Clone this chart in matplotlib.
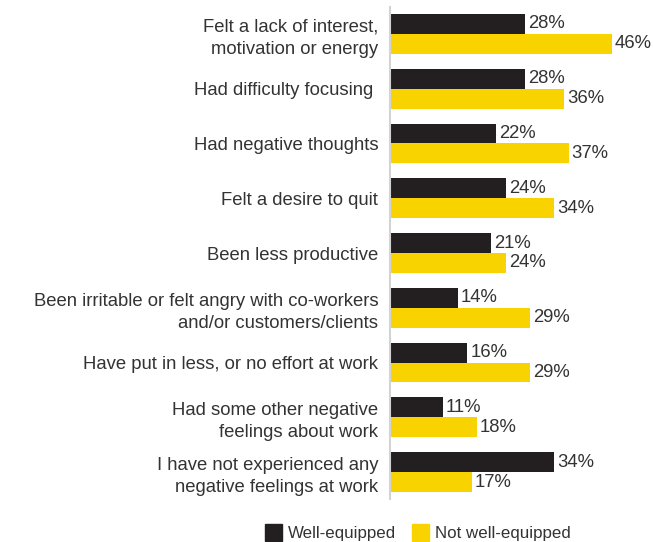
import numpy as np
import matplotlib.pyplot as plt
from matplotlib.patches import Patch

plt.rcParams['font.family'] = ['Liberation Sans', 'DejaVu Sans']

categories = [
    "Felt a lack of interest,\nmotivation or energy",
    "Had difficulty focusing ",
    "Had negative thoughts",
    "Felt a desire to quit",
    "Been less productive",
    "Been irritable or felt angry with co-workers\nand/or customers/clients",
    "Have put in less, or no effort at work",
    "Had some other negative\nfeelings about work",
    "I have not experienced any\nnegative feelings at work",
]
well_equipped = [28, 28, 22, 24, 21, 14, 16, 11, 34]
not_well_equipped = [46, 36, 37, 34, 24, 29, 29, 18, 17]
series_names = ["Well-equipped", "Not well-equipped"]

black = '#231f20'
yellow = '#f9d300'
text_col = '#333333'
fs = 13.3

fig = plt.figure(figsize=(6.53, 5.42), dpi=100)
ax = fig.add_axes([390/653, 0.0786, 263/653, 0.9092])

y = np.arange(len(categories))
h = 0.365
ax.barh(y - h/2, well_equipped, height=h, color=black)
ax.barh(y + h/2, not_well_equipped, height=h, color=yellow)

for i in range(len(categories)):
    ax.text(well_equipped[i] + 0.6, y[i] - h/2, f"{well_equipped[i]}%",
            va='center', ha='left', fontsize=fs, color=text_col)
    ax.text(not_well_equipped[i] + 0.6, y[i] + h/2, f"{not_well_equipped[i]}%",
            va='center', ha='left', fontsize=fs, color=text_col)

ax.set_xlim(0, 263/4.83)
ax.set_ylim(len(categories) - 0.5, -0.5)
ax.set_yticks(y)
ax.set_yticklabels(categories, fontsize=fs, color=text_col, linespacing=1.4,
                   multialignment='right')
ax.tick_params(axis='y', length=0, pad=8.5)
ax.set_xticks([])
for s in ['top', 'right', 'bottom']:
    ax.spines[s].set_visible(False)
ax.spines['left'].set_color('#d3d3d3')
ax.spines['left'].set_linewidth(1.5)

handles = [Patch(color=black), Patch(color=yellow)]
fig.legend(handles, series_names, loc='center', bbox_to_anchor=(0.64, 0.017),
           ncol=2, frameon=False, fontsize=12.2, handlelength=1.0, handleheight=1.2,
           handletextpad=0.4, columnspacing=0.9, labelcolor=text_col)

fig.savefig('out.png', dpi=100)
